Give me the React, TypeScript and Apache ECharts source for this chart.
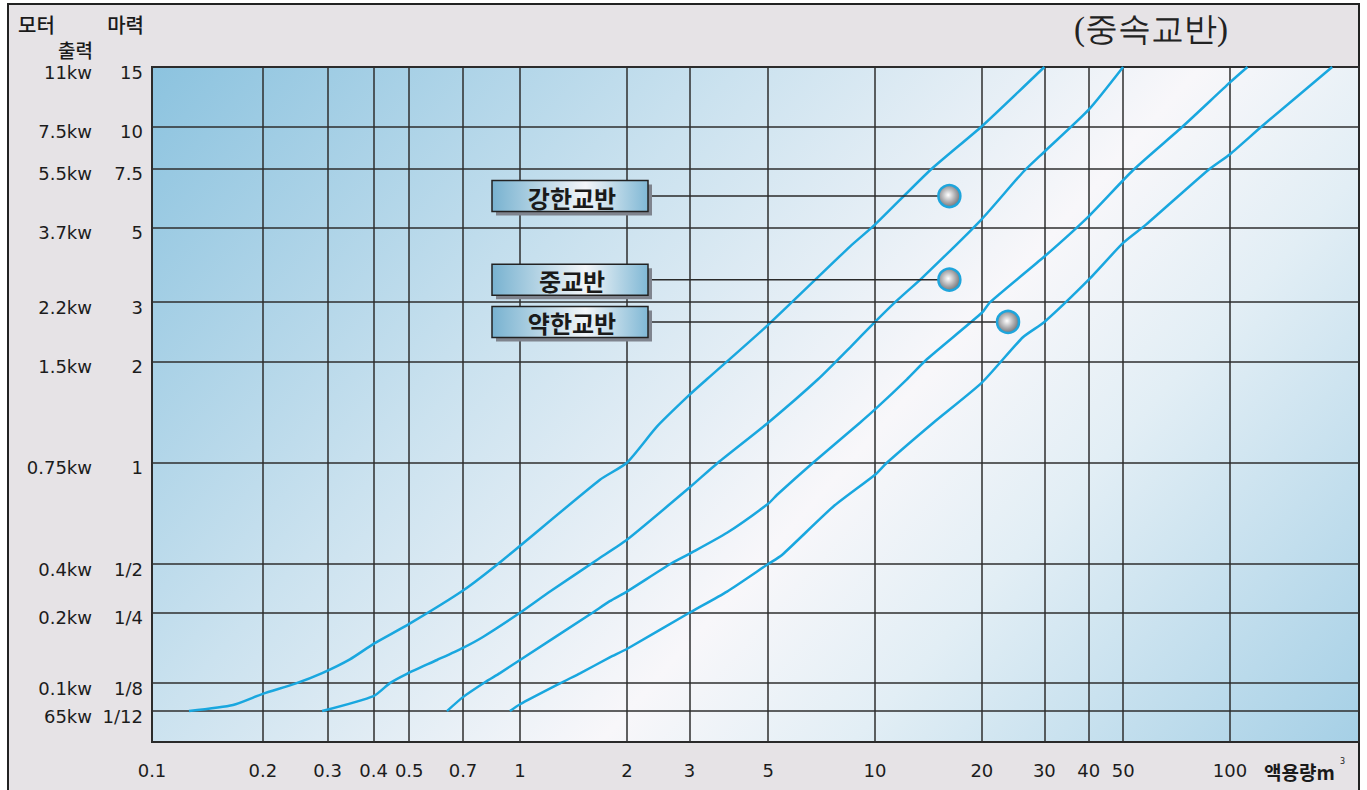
import React, { useEffect, useRef } from 'react';
import * as echarts from 'echarts';

// ---- axis ticks ----
const volumeTicks = [0.1, 0.2, 0.3, 0.4, 0.5, 0.7, 1, 2, 3, 5, 10, 20, 30, 40, 50, 100];
const hpTicks = [15, 10, 7.5, 5, 3, 2, 1, 0.5, 0.25, 0.125, 1 / 12];
const hpTickLabels = ['15', '10', '7.5', '5', '3', '2', '1', '1/2', '1/4', '1/8', '1/12'];
const kwTickLabels = ['11kw', '7.5kw', '5.5kw', '3.7kw', '2.2kw', '1.5kw', '0.75kw', '0.4kw', '0.2kw', '0.1kw', '65kw'];

// ---- boundary curves (volume m3, horsepower) ----
const curve1Vol = [0.126, 0.166, 0.2, 0.245, 0.29, 0.345, 0.4, 0.5, 0.7, 0.9, 1.68, 2, 2.43, 3, 3.36, 5, 8.5, 10, 14.3, 20, 30];
const curve1Hp = [0.0833, 0.091, 0.107, 0.124, 0.138, 0.158, 0.184, 0.224, 0.343, 0.515, 0.89, 1, 1.28, 1.59, 1.77, 2.57, 4.39, 5.1, 7.4, 10, 15];

const curve2Vol = [0.29, 0.4, 0.443, 0.493, 0.595, 0.7, 0.793, 1, 1.215, 1.65, 2, 3, 3.61, 5, 6.91, 8.5, 10, 11.4, 13.6, 20, 26.1, 30, 40, 50];
const curve2Hp = [0.0833, 0.1035, 0.125, 0.137, 0.157, 0.177, 0.197, 0.25, 0.338, 0.515, 0.59, 0.843, 1, 1.315, 1.77, 2.2, 2.62, 3, 3.55, 5.3, 7.3, 8.4, 11.2, 15];

const curve3Vol = [0.633, 0.7, 0.803, 0.882, 1, 1.6, 1.79, 2, 2.65, 3, 3.83, 5, 5.3, 6.69, 9.07, 10, 12.3, 14, 20, 21.1, 30, 40, 53.3, 73.7, 100, 112];
const curve3Hp = [0.0833, 0.102, 0.126, 0.138, 0.157, 0.25, 0.295, 0.338, 0.5, 0.536, 0.619, 0.755, 0.803, 1, 1.315, 1.44, 1.77, 2.03, 2.79, 3, 4.1, 5.4, 7.4, 10, 13.5, 15];

const curve4Vol = [0.939, 1, 1.3, 1.48, 1.79, 2, 3, 3.83, 5, 5.47, 7.62, 10, 10.8, 14.6, 20, 26.1, 30, 40, 50, 58, 86.7, 100, 123, 194];
const curve4Hp = [0.0833, 0.092, 0.125, 0.138, 0.161, 0.175, 0.25, 0.338, 0.5, 0.532, 0.74, 0.921, 1, 1.315, 1.73, 2.36, 2.62, 3.5, 4.5, 5.1, 7.4, 8.26, 10, 15];

// ---- region labels ----
const regionNames = ['강한교반', '중교반', '약한교반'];
const regionVol = [16.2, 16.2, 23.7];
const regionHp = [6.2, 3.5, 2.62];

// ---- axis scale of the original drawing ----
const FIRST_DECADE_STRETCH = 368 / 355;
const LOW_HP_SCALE: [number, number][] = [
  [0.5, Math.log10(0.5)],
  [0.25, -0.446],
  [0.125, -0.655],
  [1 / 12, -0.738],
];
const xUnit = (v: number) => (v >= 1 ? Math.log10(v) : Math.log10(v) * FIRST_DECADE_STRETCH);
const yUnit = (hp: number) => {
  if (hp >= 0.5) return Math.log10(hp);
  const n = LOW_HP_SCALE.length;
  for (let i = 0; i < n - 1; i++) {
    const [h0, u0] = LOW_HP_SCALE[i];
    const [h1, u1] = LOW_HP_SCALE[i + 1];
    if (hp >= h1 || i === n - 2) {
      const t = (Math.log10(hp) - Math.log10(h0)) / (Math.log10(h1) - Math.log10(h0));
      return u0 + t * (u1 - u0);
    }
  }
  return 0;
};
const X_MIN = xUnit(0.1);
const X_MAX = 2.3634;
const Y_MIN = -0.83;
const Y_MAX = Math.log10(15);

const toPoints = (vol: number[], hp: number[]) => vol.map((v, i) => [xUnit(v), yUnit(hp[i])]);

export default function App() {
  const ref = useRef<HTMLDivElement>(null);
  useEffect(() => {
    if (!ref.current) return;
    const chart = echarts.init(ref.current, null, { renderer: 'svg' });
    const xVals = volumeTicks.map(xUnit);
    const yVals = hpTicks.map(yUnit);
    const lineColor = '#19a7df';
    const mkLine = (name: string, vol: number[], hp: number[]) => ({
      name,
      type: 'line',
      data: toPoints(vol, hp),
      showSymbol: false,
      symbol: 'none',
      smooth: 0.2,
      lineStyle: { color: lineColor, width: 2.5 },
      z: 3,
    });
    const labelFont = 'DejaVu Sans';
    const cjk = 'Noto Sans CJK KR';
    chart.setOption({
      animation: false,
      backgroundColor: 'transparent',
      grid: {
        left: 152,
        right: 8,
        top: 67,
        bottom: 48,
        show: true,
        borderColor: '#2a2a2a',
        borderWidth: 2,
        backgroundColor: new echarts.graphic.LinearGradient(
          315, -115, 1485, 925,
          [
            { offset: 0, color: '#8cc3df' },
            { offset: 0.28, color: '#cbe2ef' },
            { offset: 0.5, color: '#f8f7fa' },
            { offset: 0.62, color: '#e2eef5' },
            { offset: 0.86, color: '#a6d0e6' },
            { offset: 1, color: '#9ccae3' },
          ],
          true
        ),
      },
      xAxis: {
        type: 'value',
        min: X_MIN,
        max: X_MAX,
        axisLine: { show: false },
        axisTick: { show: false, customValues: xVals },
        axisLabel: {
          customValues: xVals,
          margin: 19,
          fontFamily: labelFont,
          fontSize: 18,
          lineHeight: 18,
          color: '#1c1c1c',
          formatter: (val: number) => {
            const i = xVals.findIndex((u) => Math.abs(u - val) < 1e-6);
            return i >= 0 ? String(volumeTicks[i]) : '';
          },
        },
        splitLine: { show: true, lineStyle: { color: '#2e2e2e', width: 1.5 } },
      },
      yAxis: {
        type: 'value',
        min: Y_MIN,
        max: Y_MAX,
        axisLine: { show: false },
        axisTick: { show: false, customValues: yVals },
        axisLabel: {
          customValues: yVals,
          margin: 9,
          verticalAlign: 'top',
          lineHeight: 10,
          fontFamily: labelFont,
          fontSize: 18,
          color: '#1c1c1c',
          formatter: (val: number) => {
            const i = yVals.findIndex((u) => Math.abs(u - val) < 1e-6);
            return i >= 0 ? `{k|${kwTickLabels[i]}}{h|${hpTickLabels[i]}}` : '';
          },
          rich: {
            k: { width: 80, align: 'right', fontFamily: labelFont, fontSize: 18, lineHeight: 10, color: '#1c1c1c' },
            h: { width: 51, align: 'right', fontFamily: labelFont, fontSize: 18, lineHeight: 10, color: '#1c1c1c' },
          },
        },
        splitLine: { show: true, lineStyle: { color: '#2e2e2e', width: 1.5 } },
      },
      graphic: [
        { type: 'text', x: 18, y: 24, style: { text: '모터', align: 'left', verticalAlign: 'middle', fontFamily: cjk, fontSize: 20, fontWeight: 500, fill: '#1a1a1a' } },
        { type: 'text', x: 144, y: 24, style: { text: '마력', align: 'right', verticalAlign: 'middle', fontFamily: cjk, fontSize: 20, fontWeight: 500, fill: '#1a1a1a' } },
        { type: 'text', x: 93, y: 49, style: { text: '출력', align: 'right', verticalAlign: 'middle', fontFamily: cjk, fontSize: 19, fontWeight: 500, fill: '#1a1a1a' } },
        { type: 'text', x: 1074, y: 29, style: { text: '(중속교반)', align: 'left', verticalAlign: 'middle', fontFamily: 'serif', fontSize: 33, fill: '#222' } },
        { type: 'text', x: 1264, y: 771, style: { text: '액용량m', align: 'left', verticalAlign: 'middle', fontFamily: cjk, fontSize: 19, fontWeight: 'bold', fill: '#1a1a1a' } },
        { type: 'text', x: 1340, y: 761, style: { text: '3', align: 'left', verticalAlign: 'middle', fontFamily: 'DejaVu Sans', fontSize: 8, fill: '#1a1a1a' } },
      ],
      series: [
        mkLine('curve1', curve1Vol, curve1Hp),
        mkLine('curve2', curve2Vol, curve2Hp),
        mkLine('curve3', curve3Vol, curve3Hp),
        mkLine('curve4', curve4Vol, curve4Hp),
        {
          type: 'custom',
          name: 'regions',
          clip: false,
          z: 6,
          data: regionVol.map((v, i) => [xUnit(v), yUnit(regionHp[i])]),
          renderItem: (params: any, api: any) => {
            const pt = api.coord([api.value(0), api.value(1)]);
            const name = regionNames[params.dataIndex];
            const boxX = 492;
            const boxW = 156;
            const boxH = 31;
            const cy = pt[1];
            const r = 11;
            return {
              type: 'group',
              children: [
                { type: 'line', shape: { x1: boxX + boxW, y1: cy, x2: pt[0] - r, y2: cy }, style: { stroke: '#2a2a2a', lineWidth: 1.5 } },
                { type: 'rect', shape: { x: boxX + 4, y: cy - boxH / 2 + 4, width: boxW, height: boxH }, style: { fill: '#7f848e' } },
                {
                  type: 'rect',
                  shape: { x: boxX, y: cy - boxH / 2, width: boxW, height: boxH },
                  style: {
                    fill: new echarts.graphic.LinearGradient(0, 0, 1, 0, [
                      { offset: 0, color: '#78b2d0' },
                      { offset: 0.6, color: '#f3f6f9' },
                      { offset: 1, color: '#80b8d5' },
                    ]),
                    stroke: '#222',
                    lineWidth: 1.5,
                  },
                },
                {
                  type: 'text',
                  style: {
                    text: name,
                    x: boxX + boxW / 2 + 2,
                    y: cy + 1,
                    align: 'center',
                    verticalAlign: 'middle',
                    fontFamily: cjk,
                    fontSize: 24,
                    fontWeight: 'bold',
                    fill: '#1a1a1a',
                  },
                },
                {
                  type: 'circle',
                  shape: { cx: pt[0], cy: pt[1], r },
                  style: {
                    fill: new echarts.graphic.RadialGradient(0.45, 0.45, 0.6, [
                      { offset: 0, color: '#ffffff' },
                      { offset: 0.6, color: '#a3a3a6' },
                      { offset: 1, color: '#6a6a6e' },
                    ]),
                    stroke: '#1ea5dc',
                    lineWidth: 2.5,
                  },
                },
              ],
            };
          },
        },
      ],
    });
    return () => chart.dispose();
  }, []);

  return (
    <div style={{ position: 'absolute', left: 0, top: 0, width: 1367, height: 790, background: '#ffffff', overflow: 'hidden' }}>
      <div
        style={{
          position: 'absolute',
          left: 7,
          top: 3,
          width: 1353,
          height: 820,
          boxSizing: 'border-box',
          border: '2.5px solid #222',
          background: '#e6e3e6',
        }}
      />
      <div ref={ref} style={{ position: 'absolute', left: 0, top: 0, width: 1367, height: 790 }} />
    </div>
  );
}
